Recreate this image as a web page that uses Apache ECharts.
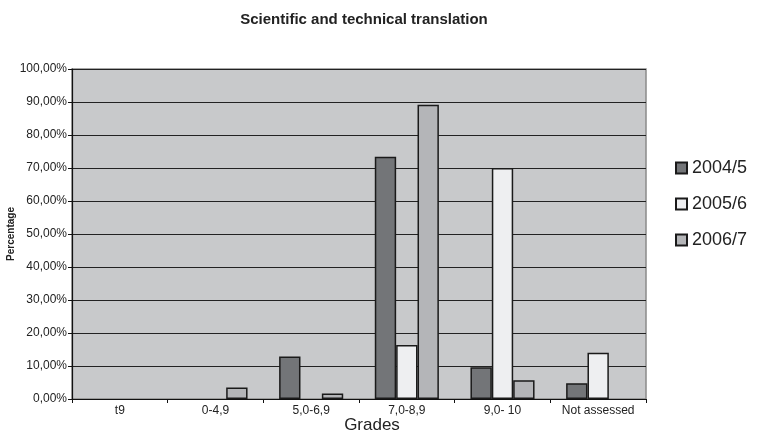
<!DOCTYPE html>
<html>
<head>
<meta charset="utf-8">
<script src="https://cdn.jsdelivr.net/npm/echarts@6/dist/echarts.min.js"></script>
<style>html,body{margin:0;padding:0;background:#fff}#c{width:768px;height:442px}</style>
</head>
<body>
<div id="c"></div>
<script>
const categories = ['t9', '0-4,9', '5,0-6,9', '7,0-8,9', '9,0- 10', 'Not assessed'];
const s2004 = [0, 0, 12.9, 73.4, 9.6, 4.8];
const s2005 = [0, 0, 0, 16.4, 70.0, 14.0];
const s2006 = [0, 3.5, 1.7, 89.2, 5.7, 0];
const seriesNames = ['2004/5', '2005/6', '2006/7'];
const colors = ['#737578', '#eeeff1', '#b4b5b8'];

const chart = echarts.init(document.getElementById('c'));
const font = 'Liberation Sans, Arial, sans-serif';
function mk(name, data, color) {
  return {
    name: name, type: 'bar', data: data.map(v => v === 0 ? '-' : v),
    barGap: '0%', barCategoryGap: '33%',
    itemStyle: { color: color, borderColor: '#1a1a1a', borderWidth: 1.5 },
    emphasis: { disabled: true }
  };
}
chart.setOption({
  animation: false,
  backgroundColor: '#ffffff',
  title: {
    text: 'Scientific and technical translation',
    left: 359, top: 7, textAlign: 'center',
    textStyle: { fontFamily: font, fontSize: 15, fontWeight: 'bold', color: '#222' }
  },
  grid: {
    left: 72, right: 122, top: 69, bottom: 43,
    outerBoundsMode: 'none', containLabel: false,
    show: true, backgroundColor: '#c8c9cb', borderColor: '#8a8a8a', borderWidth: 1.5
  },
  legend: {
    orient: 'vertical', left: 670, top: 154,
    itemWidth: 11, itemHeight: 11, itemGap: 18,
    icon: 'rect',
    textStyle: { fontFamily: font, fontSize: 18, color: '#222' },
    data: seriesNames
  },
  xAxis: {
    type: 'category', data: categories,
    name: 'Grades', nameLocation: 'middle', nameGap: 18, nameMoveOverlap: false,
    nameTextStyle: { fontFamily: font, fontSize: 17, color: '#222', padding: [0, 0, 0, 26] },
    axisLine: { lineStyle: { color: '#111', width: 1.2 } },
    axisTick: { show: true, length: 4, lineStyle: { color: '#111' } },
    axisLabel: { interval: 0, fontFamily: font, fontSize: 12, color: '#222', margin: 6 }
  },
  yAxis: {
    type: 'value', min: 0, max: 100, interval: 10,
    name: 'Percentage', nameLocation: 'middle', nameGap: 56, nameRotate: 90, nameMoveOverlap: false,
    nameTextStyle: { fontFamily: font, fontSize: 10, fontWeight: 'bold', color: '#222' },
    axisLine: { show: true, lineStyle: { color: '#111', width: 1.2 } },
    axisTick: { show: true, length: 4, lineStyle: { color: '#111' } },
    axisLabel: {
      fontFamily: font, fontSize: 12, color: '#222', margin: 5,
      formatter: v => v.toFixed(2).replace('.', ',') + '%'
    },
    splitLine: { show: true, lineStyle: { color: '#222', width: 1 } }
  },
  series: [mk(seriesNames[0], s2004, colors[0]), mk(seriesNames[1], s2005, colors[1]), mk(seriesNames[2], s2006, colors[2])]
});
</script>
</body>
</html>
